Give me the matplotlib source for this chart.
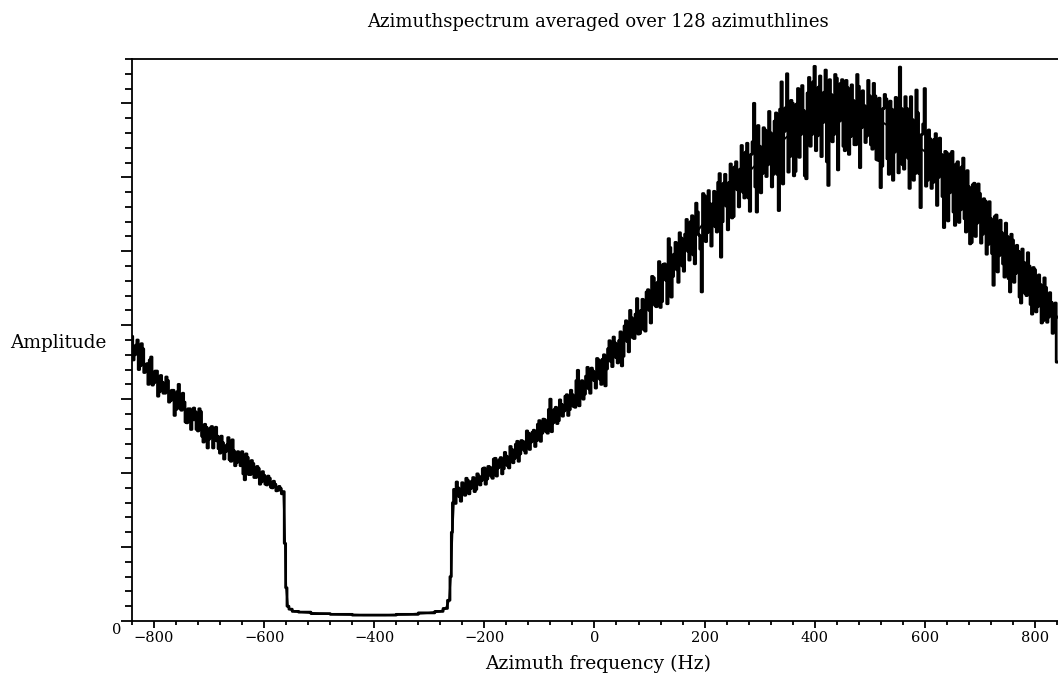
import matplotlib
matplotlib.use("Agg")
import matplotlib.pyplot as plt
import numpy as np
from matplotlib.ticker import MultipleLocator

# smooth (averaged) spectrum
smooth_hz = [-840, -800, -750, -700, -650, -600, -565, -562, -560, -557, -553,
             -545, -530, -500, -460, -420, -380, -340, -300, -280, -270, -264,
             -261, -258, -255, -200, -150, -100, -50, 0, 50, 100, 150, 200,
             250, 300, 350, 400, 450, 500, 550, 600, 650, 700, 750, 800, 842]
smooth_amp = [3.70, 3.30, 2.90, 2.52, 2.20, 1.92, 1.73, 1.05, 0.45, 0.20, 0.16,
              0.13, 0.12, 0.10, 0.09, 0.08, 0.08, 0.09, 0.11, 0.13, 0.17, 0.28,
              0.60, 1.20, 1.68, 1.95, 2.22, 2.55, 2.92, 3.30, 3.75, 4.30, 4.90, 5.40,
              5.85, 6.22, 6.55, 6.80, 6.92, 6.85, 6.62, 6.35, 5.95, 5.48, 5.00, 4.50, 4.10]

# noisy spectrum, left band: samples at -840, -835, ... Hz
noisy_left_start = -840
noisy_left_amp = [3.85, 3.60, 3.80, 3.45, 3.68, 3.47, 3.20, 3.57, 3.22, 3.38,
                  3.10, 3.23, 3.08, 3.25, 2.98, 3.12, 2.86, 3.20, 2.85, 2.96,
                  2.68, 2.87, 2.72, 2.83, 2.57, 2.83, 2.42, 2.62, 2.46, 2.63,
                  2.44, 2.50, 2.27, 2.41, 2.29, 2.48, 2.16, 2.30, 2.14, 2.21,
                  2.29, 1.91, 2.21, 1.98, 2.13, 1.94, 2.06, 1.88, 1.97, 1.84,
                  1.93, 1.80, 1.85, 1.77, 1.79, 1.75]
# ... and the samples in between (-837.5, -832.5, ... Hz)
noisy_left_mid = [3.53, 3.73, 3.40, 3.75, 3.36, 3.48, 3.53, 3.19, 3.38, 3.04,
                  3.32, 3.08, 3.30, 2.96, 3.12, 2.78, 3.10, 2.87, 3.08, 2.69,
                  2.87, 2.59, 2.88, 2.59, 2.87, 2.50, 2.66, 2.34, 2.61, 2.34,
                  2.62, 2.33, 2.50, 2.19, 2.38, 2.18, 2.45, 2.10, 2.29, 2.10,
                  1.99, 2.26, 1.98, 2.17, 1.94, 2.09, 1.85, 2.02, 1.85, 1.96,
                  1.81, 1.89, 1.76, 1.82, 1.72]

# noisy spectrum in the notch
noisy_gap_hz = [-562, -560, -557, -553, -545, -530, -500, -460, -420, -380,
                -340, -300, -280, -270, -264, -261, -259, -257]
noisy_gap_amp = [1.05, 0.45, 0.20, 0.16, 0.13, 0.12, 0.10, 0.09, 0.08, 0.08,
                 0.09, 0.11, 0.13, 0.17, 0.28, 0.60, 1.20, 1.60]

# noisy spectrum, right band: samples at -255, -250, ... Hz
noisy_right_start = -255
noisy_right_amp = [
    1.78, 1.88, 1.68, 1.87, 1.70, 1.90, 1.79, 1.94, 1.78, 1.96, 1.90,
    2.07, 1.92, 2.08, 1.93, 2.20, 2.07, 2.21, 2.06, 2.23, 2.07,
    2.32, 2.20, 2.43, 2.26, 2.43, 2.27, 2.54, 2.42, 2.58, 2.44,
    2.71, 2.54, 2.72, 2.54, 3.00, 2.68, 2.89, 2.71, 2.93, 2.84,
    3.06, 2.86, 3.06, 2.89, 3.39, 3.16, 3.00, 3.31, 3.14, 3.42,
    3.25, 3.55, 3.27, 3.54, 3.18, 3.68, 3.51, 3.84, 3.56, 3.79,
    3.45, 3.99, 3.78, 4.20, 3.83, 4.15, 3.88, 4.20, 3.94, 4.45,
    4.20, 4.66, 4.27, 4.58, 4.24, 4.82, 4.61, 5.17, 4.38, 4.96,
    4.75, 5.25, 4.80, 5.23, 5.00, 5.40, 4.95, 5.65, 5.22, 4.45,
    5.75, 5.25, 5.64, 5.64, 5.33, 5.93, 4.92, 5.92, 5.61, 5.93,
    5.45, 6.14, 5.83, 6.11, 5.80, 6.34, 5.72, 6.31, 7.00, 5.53,
    6.42, 6.05, 6.64, 6.17, 6.60, 6.04, 6.87, 5.55, 7.29, 6.62,
    7.40, 6.28, 7.00, 6.08, 7.20, 6.58, 6.90, 5.98, 7.35, 6.58,
    7.50, 6.56, 7.37, 6.74, 7.45, 5.89, 7.12, 6.58, 7.34, 6.76,
    7.32, 6.36, 7.21, 6.55, 7.04, 6.44, 7.23, 6.67, 6.97, 6.56,
    7.10, 6.38, 7.10, 6.23, 5.86, 6.93, 7.06, 6.04, 6.92, 6.34,
    6.42, 7.49, 6.17, 7.09, 6.26, 7.09, 5.96, 7.18, 6.05, 6.58,
    7.20, 5.96, 6.52, 5.93, 6.59, 6.00, 6.31, 5.32, 6.33, 5.79,
    6.35, 5.35, 6.21, 5.56, 6.26, 5.26, 5.87, 5.12, 5.92, 5.38,
    5.78, 5.23, 5.68, 5.09, 5.44, 4.54, 5.49, 4.94, 5.25, 4.65,
    5.20, 4.45, 5.15, 4.70, 5.00, 4.30, 4.85, 4.40, 4.80, 4.15,
    4.75, 4.25, 4.55, 4.06, 4.51, 4.11, 4.31, 3.92, 3.50,
]
# ... and the samples in between (-252.5, -247.5, ... Hz)
noisy_right_mid = [
    1.59, 1.80, 1.62, 1.83, 1.93, 1.72, 1.89, 1.75, 1.99, 1.84, 2.06,
    1.85, 2.09, 1.96, 2.19, 1.96, 2.18, 1.99, 2.28, 2.10, 2.36,
    2.14, 2.39, 2.16, 2.44, 2.31, 2.57, 2.32, 2.55, 2.36, 2.66,
    2.43, 2.73, 2.56, 2.86, 2.56, 2.86, 2.67, 2.99, 2.77, 3.04,
    2.78, 3.12, 2.90, 3.25, 2.91, 3.25, 3.07, 3.43, 3.08, 3.38,
    3.15, 3.53, 3.20, 3.60, 3.41, 3.79, 3.44, 3.76, 3.49, 3.91,
    3.58, 4.06, 3.64, 4.10, 3.82, 4.36, 3.89, 4.35, 3.92, 4.48,
    4.03, 4.64, 4.25, 4.86, 4.32, 4.83, 4.29, 5.05, 4.66, 5.12,
    4.58, 5.18, 4.73, 5.43, 4.88, 5.48, 4.83, 5.53, 5.03, 5.78,
    5.13, 5.82, 5.07, 5.81, 5.26, 6.05, 5.40, 6.04, 5.29, 6.18,
    5.47, 6.21, 5.60, 6.43, 5.72, 6.46, 5.54, 6.48, 5.87, 6.70,
    5.79, 6.67, 6.01, 6.89, 5.87, 6.76, 6.04, 6.92, 5.91, 6.94,
    6.07, 7.04, 6.02, 6.99, 6.27, 7.24, 6.02, 7.14, 6.42, 7.29,
    6.36, 7.22, 6.28, 7.15, 6.21, 7.32, 6.48, 7.39, 6.10, 7.27,
    6.42, 7.31, 6.31, 7.25, 6.44, 7.39, 6.13, 7.17, 6.47, 7.31,
    6.44, 7.27, 6.24, 7.07, 6.15, 7.12, 6.25, 7.03, 5.96, 7.08,
    6.06, 6.93, 6.11, 6.93, 5.85, 6.78, 6.05, 6.87, 5.59, 6.72,
    5.88, 6.64, 5.85, 6.51, 5.62, 6.53, 5.74, 6.35, 5.41, 6.32,
    5.53, 6.18, 5.39, 6.14, 5.44, 6.09, 5.10, 5.90, 5.20, 5.91,
    5.11, 5.71, 4.96, 5.67, 4.97, 5.47, 4.72, 5.42, 4.83, 5.38,
    4.63, 5.23, 4.58, 5.08, 4.38, 5.03, 4.43, 4.98, 4.28, 4.78,
    4.18, 4.68, 4.03, 4.64, 4.04, 4.44, 3.89, 4.30,
]

x_ticks = [-800, -600, -400, -200, 0, 200, 400, 600, 800]


def interleave(main, mid):
    out = np.empty(len(main) + len(mid))
    out[0::2] = main
    out[1::2] = mid
    return out


plt.rcParams["font.family"] = "DejaVu Serif"

left_amp = interleave(noisy_left_amp, noisy_left_mid)
right_amp = interleave(noisy_right_amp, noisy_right_mid)
left_hz = noisy_left_start + 2.5 * np.arange(len(left_amp))
right_hz = noisy_right_start + 2.5 * np.arange(len(right_amp))
noisy_hz = np.concatenate([left_hz, noisy_gap_hz, right_hz])
noisy_amp = np.concatenate([left_amp, noisy_gap_amp, right_amp])

fig = plt.figure(figsize=(10.58, 6.77), dpi=100)
ax = fig.add_axes([0.1248, 0.0827, 0.8752, 0.8302])

ax.plot(noisy_hz, noisy_amp, color="black", lw=2.0, drawstyle="steps-mid")
ax.plot(smooth_hz, smooth_amp, color="black", lw=1.4)

ax.set_xlim(-840, 842)
ax.set_ylim(0, 7.6)
ax.set_xticks(x_ticks)
ax.set_xticklabels([str(t).replace("-", "\u2212") for t in x_ticks])
ax.xaxis.set_minor_locator(MultipleLocator(40))
ax.yaxis.set_major_locator(MultipleLocator(1))
ax.yaxis.set_minor_locator(MultipleLocator(0.2))
ax.set_yticklabels([])
ax.tick_params(axis="x", which="major", direction="out", length=5, width=1.3,
               labelsize=10.5, pad=2)
ax.tick_params(axis="x", which="minor", direction="out", length=3, width=1.3)
ax.tick_params(axis="y", which="major", direction="out", length=8, width=1.3)
ax.tick_params(axis="y", which="minor", direction="out", length=5, width=1.3)
ax.spines["right"].set_visible(False)
for side in ["left", "top", "bottom"]:
    ax.spines[side].set_linewidth(1.3)

ax.text(-0.012, -0.003, "0", transform=ax.transAxes, ha="right", va="top",
        fontsize=10.5)
fig.text(0.0095, 0.4934, "Amplitude", ha="left", va="center", fontsize=13.3)
fig.text(0.565, 0.0192, "Azimuth frequency (Hz)", ha="center", va="center",
         fontsize=13.5)
fig.text(0.565, 0.9675, "Azimuthspectrum averaged over 128 azimuthlines",
         ha="center", va="center", fontsize=13)

fig.savefig("out.png", dpi=100)
